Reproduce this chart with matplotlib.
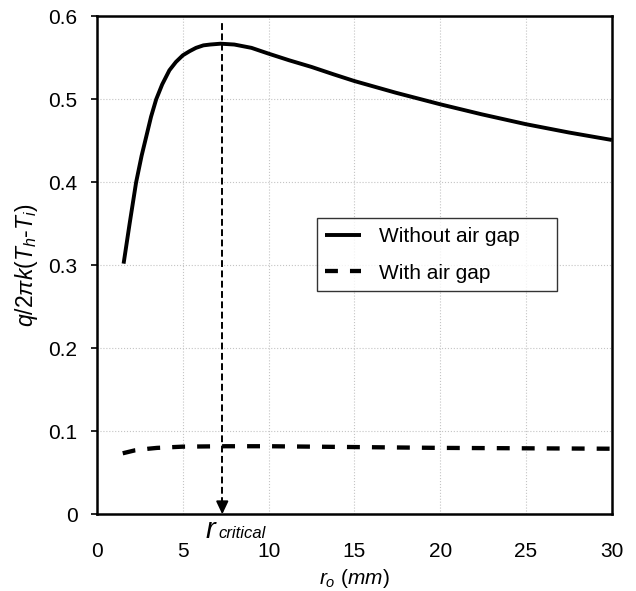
import numpy as np
import matplotlib
matplotlib.use("Agg")
import matplotlib.pyplot as plt

plt.rcParams['font.family'] = ['Liberation Sans', 'DejaVu Sans']
plt.rcParams['mathtext.fontset'] = 'custom'
plt.rcParams['mathtext.rm'] = 'Liberation Sans'
plt.rcParams['mathtext.it'] = 'Liberation Sans:italic'
plt.rcParams['mathtext.bf'] = 'Liberation Sans:bold'

x_no_gap = [1.55, 1.9, 2.28, 2.6, 2.87, 3.15, 3.45, 3.8, 4.22, 4.6, 5.0, 5.4, 5.77, 6.2, 6.6, 7.2, 8.0, 9.0, 10.0, 11.2, 12.5, 13.8, 15.0, 17.4, 20.0, 22.4, 25.0, 27.5, 30.0]
y_no_gap = [0.302, 0.35, 0.40, 0.432, 0.455, 0.479, 0.50, 0.518, 0.535, 0.545, 0.553, 0.558, 0.562, 0.565, 0.566, 0.567, 0.566, 0.562, 0.555, 0.547, 0.539, 0.530, 0.522, 0.508, 0.494, 0.482, 0.470, 0.460, 0.451]
x_gap = [1.5, 2.2, 3.0, 3.5, 5.0, 7.5, 10.0, 15.0, 20.0, 25.0, 30.0]
y_gap = [0.0735, 0.077, 0.079, 0.080, 0.0815, 0.082, 0.082, 0.081, 0.080, 0.0795, 0.079]
r_critical = 7.3

fig = plt.figure(figsize=(6.36, 5.91), dpi=100)
ax = fig.add_axes([0.1525, 0.1298, 0.8095, 0.8426])

ax.plot(x_no_gap, y_no_gap, color='black', lw=2.8, label='Without air gap',
        solid_joinstyle='round', solid_capstyle='butt')
ax.plot(x_gap, y_gap, color='black', lw=3.1, ls=(0, (3.0, 2.8)), label='With air gap')

# critical radius marker: dashed stem + arrow head
ax.vlines(r_critical, 0.012, 0.592, colors='black', lw=1.4, linestyles=(0, (3.5, 1.8)))
ax.annotate('', xy=(r_critical, 0.0), xytext=(r_critical, 0.016),
            arrowprops=dict(arrowstyle='-|>,head_length=0.55,head_width=0.26',
                            color='black', lw=1.4, mutation_scale=14,
                            shrinkA=0, shrinkB=0))
ax.text(r_critical - 0.97, -0.028, 'r', ha='left', va='baseline', fontsize=21,
        style='italic', clip_on=False)
ax.text(r_critical - 0.22, -0.028, 'critical', ha='left', va='baseline', fontsize=12,
        style='italic', clip_on=False)

ax.set_xlim(0, 30)
ax.set_ylim(0, 0.6)
ax.set_xticks([0, 5, 10, 15, 20, 25, 30])
ax.set_yticks([0, 0.1, 0.2, 0.3, 0.4, 0.5, 0.6])
ax.set_yticklabels(['0', '0.1', '0.2', '0.3', '0.4', '0.5', '0.6'])
ax.tick_params(axis='both', labelsize=15, direction='out', length=4, width=1.2)
ax.tick_params(axis='y', pad=10)
ax.tick_params(axis='x', length=0, pad=20)
ax.grid(True, color='#c4c4c4', ls=':', lw=0.8)
for s in ax.spines.values():
    s.set_linewidth(1.8)

ax.set_xlabel(r'$r_o$ $(mm)$', fontsize=15, labelpad=4)
ax.set_ylabel(r'$q/2\pi k(T_h$-$T_i)$', fontsize=16.5, labelpad=6)

leg = ax.legend(loc='upper left', bbox_to_anchor=(0.427, 0.494, 0.466, 0.1), mode='expand',
                fontsize=15, frameon=True, fancybox=False, edgecolor='black',
                handlelength=1.7, borderpad=0.4, labelspacing=0.85, handletextpad=0.9,
                borderaxespad=0)
leg.get_frame().set_linewidth(1.0)

fig.savefig('out.png', dpi=100)
